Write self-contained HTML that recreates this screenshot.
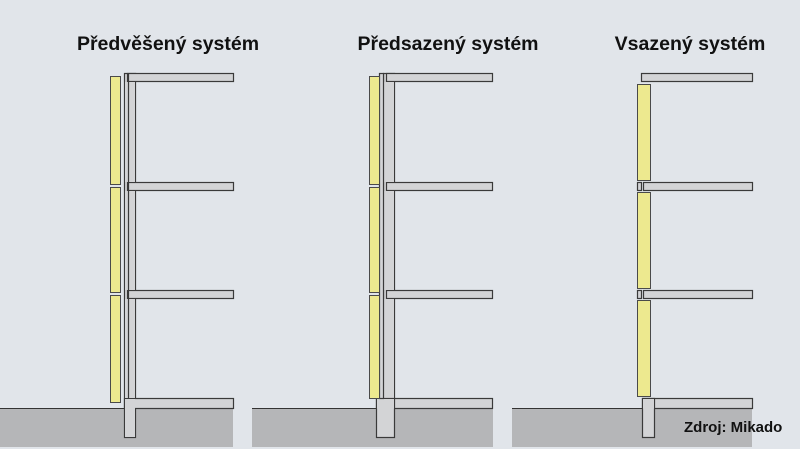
<!DOCTYPE html><html><head><style>body{margin:0}svg{display:block}text{font-family:"Liberation Sans",sans-serif;font-weight:bold;fill:#111}</style></head><body>
<svg width="800" height="449" viewBox="0 0 800 449">
<rect width="800" height="449" fill="#e1e5ea"/>
<g fill="#b5b6b8" stroke="none"><rect x="0" y="408" width="233" height="39"/><rect x="252" y="408" width="241" height="39"/><rect x="512" y="408" width="240" height="39"/></g>
<g stroke="#333" stroke-width="1"><line x1="0" y1="408.5" x2="124" y2="408.5"/><line x1="252" y1="408.5" x2="376" y2="408.5"/><line x1="512" y1="408.5" x2="642" y2="408.5"/></g>
<g font-size="19.5"><text x="168" y="50" text-anchor="middle">Předvěšený systém</text><text x="448" y="50" text-anchor="middle">Předsazený systém</text><text x="690" y="50" text-anchor="middle">Vsazený systém</text></g>
<g fill="#d3d4d6" stroke="#3a3a3a" stroke-width="1.2">
<!-- D1 -->
<rect x="124.5" y="73.5" width="11" height="364"/>
<rect x="127.5" y="73.5" width="106" height="8"/><rect x="127.5" y="182.5" width="106" height="8"/><rect x="127.5" y="290.5" width="106" height="8"/><rect x="124.5" y="398.5" width="109" height="10"/>
<rect x="125" y="82" width="10" height="100" stroke="none"/><rect x="125" y="191" width="10" height="99" stroke="none"/><rect x="125" y="299" width="10" height="99" stroke="none"/><rect x="125" y="399" width="10" height="38" stroke="none"/>
<line x1="128.5" y1="74" x2="128.5" y2="398"/>
<!-- D2 -->
<rect x="383.5" y="73.5" width="11" height="325"/>
<rect x="386.5" y="73.5" width="106" height="8"/><rect x="386.5" y="182.5" width="106" height="8"/><rect x="386.5" y="290.5" width="106" height="8"/><rect x="376.5" y="398.5" width="116" height="10"/>
<rect x="384" y="82" width="10" height="100" stroke="none"/><rect x="384" y="191" width="10" height="99" stroke="none"/><rect x="384" y="299" width="10" height="99" stroke="none"/>
<rect x="376.5" y="398.5" width="18" height="39"/><rect x="377" y="399" width="17" height="9.5" stroke="none"/>
<rect x="379.5" y="73.5" width="4" height="325"/>
<!-- D3 -->
<rect x="641.5" y="73.5" width="111" height="8"/><rect x="643.5" y="182.5" width="109" height="8"/><rect x="643.5" y="290.5" width="109" height="8"/>
<rect x="637.5" y="182.5" width="4" height="8"/><rect x="637.5" y="290.5" width="4" height="8"/>
<rect x="642.5" y="398.5" width="110" height="10"/><rect x="642.5" y="398.5" width="12" height="39"/><rect x="643" y="399" width="11" height="9.5" stroke="none"/>
</g>
<g fill="#ede98f" stroke="#4a4a4a" stroke-width="1">
<rect x="110.5" y="76.5" width="10" height="108"/><rect x="110.5" y="187.5" width="10" height="105"/><rect x="110.5" y="295.5" width="10" height="107"/>
<rect x="369.5" y="76.5" width="10" height="108"/><rect x="369.5" y="187.5" width="10" height="105"/><rect x="369.5" y="295.5" width="10" height="103"/>
<rect x="637.5" y="84.5" width="13" height="96"/><rect x="637.5" y="192.5" width="13" height="96"/><rect x="637.5" y="300.5" width="13" height="96"/>
</g>
<text x="684" y="432" font-size="15">Zdroj: Mikado</text>
</svg></body></html>
